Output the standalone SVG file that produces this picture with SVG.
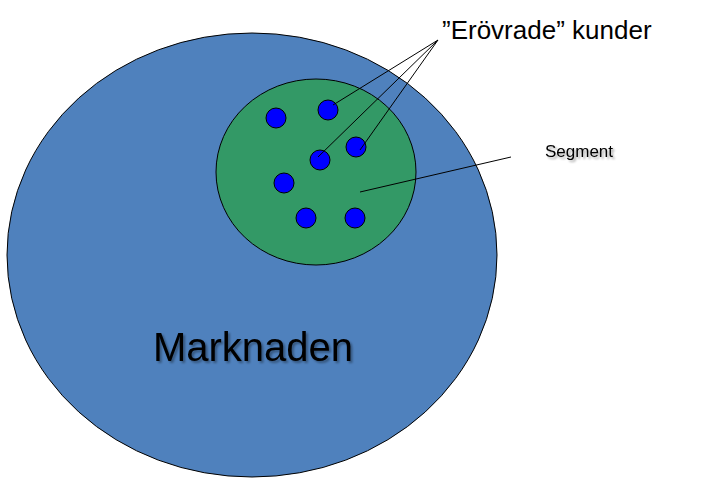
<svg xmlns="http://www.w3.org/2000/svg" width="704" height="478" viewBox="0 0 704 478">
<defs>
<filter id="sh" x="-10%" y="-20%" width="120%" height="150%"><feGaussianBlur in="SourceAlpha" stdDeviation="1.2"/><feOffset dx="2" dy="2" result="b"/><feFlood flood-color="#000" flood-opacity="0.35"/><feComposite in2="b" operator="in"/><feMerge><feMergeNode/><feMergeNode in="SourceGraphic"/></feMerge></filter>
</defs>
<style>
text{font-family:"Liberation Sans",Arial,sans-serif;fill:#000}
.dot{fill:#0000ff;stroke:#000;stroke-width:1}
.ln{stroke:#000;stroke-width:1;fill:none}
</style>
<rect width="704" height="478" fill="#fff"/>
<g id="marknaden">
<ellipse cx="252" cy="255" rx="245" ry="222" fill="#4f81bd" stroke="#000" stroke-width="1"/>
<text x="253" y="361" font-size="40" text-anchor="middle" filter="url(#sh)">Marknaden</text>
</g>
<g id="segment">
<ellipse cx="316" cy="172" rx="100" ry="93" fill="#339966" stroke="#000" stroke-width="1"/>
</g>
<g id="kunder">
<circle class="dot" cx="276" cy="118" r="10"/>
<circle class="dot" cx="328" cy="110" r="10"/>
<circle class="dot" cx="356" cy="147" r="10"/>
<circle class="dot" cx="320" cy="160" r="10"/>
<circle class="dot" cx="284" cy="183" r="10"/>
<circle class="dot" cx="306" cy="218" r="10"/>
<circle class="dot" cx="355" cy="218" r="10"/>
</g>
<g id="connectors">
<line class="ln" x1="438" y1="40" x2="333" y2="105"/>
<line class="ln" x1="438" y1="40" x2="318" y2="157"/>
<line class="ln" x1="438" y1="40" x2="360" y2="150"/>
<line class="ln" x1="511" y1="157" x2="360" y2="192"/>
</g>
<g id="labels">
<text x="442" y="39" font-size="26">”Erövrade” kunder</text>
<text x="545" y="157" font-size="17" filter="url(#sh)">Segment</text>
</g>
</svg>
